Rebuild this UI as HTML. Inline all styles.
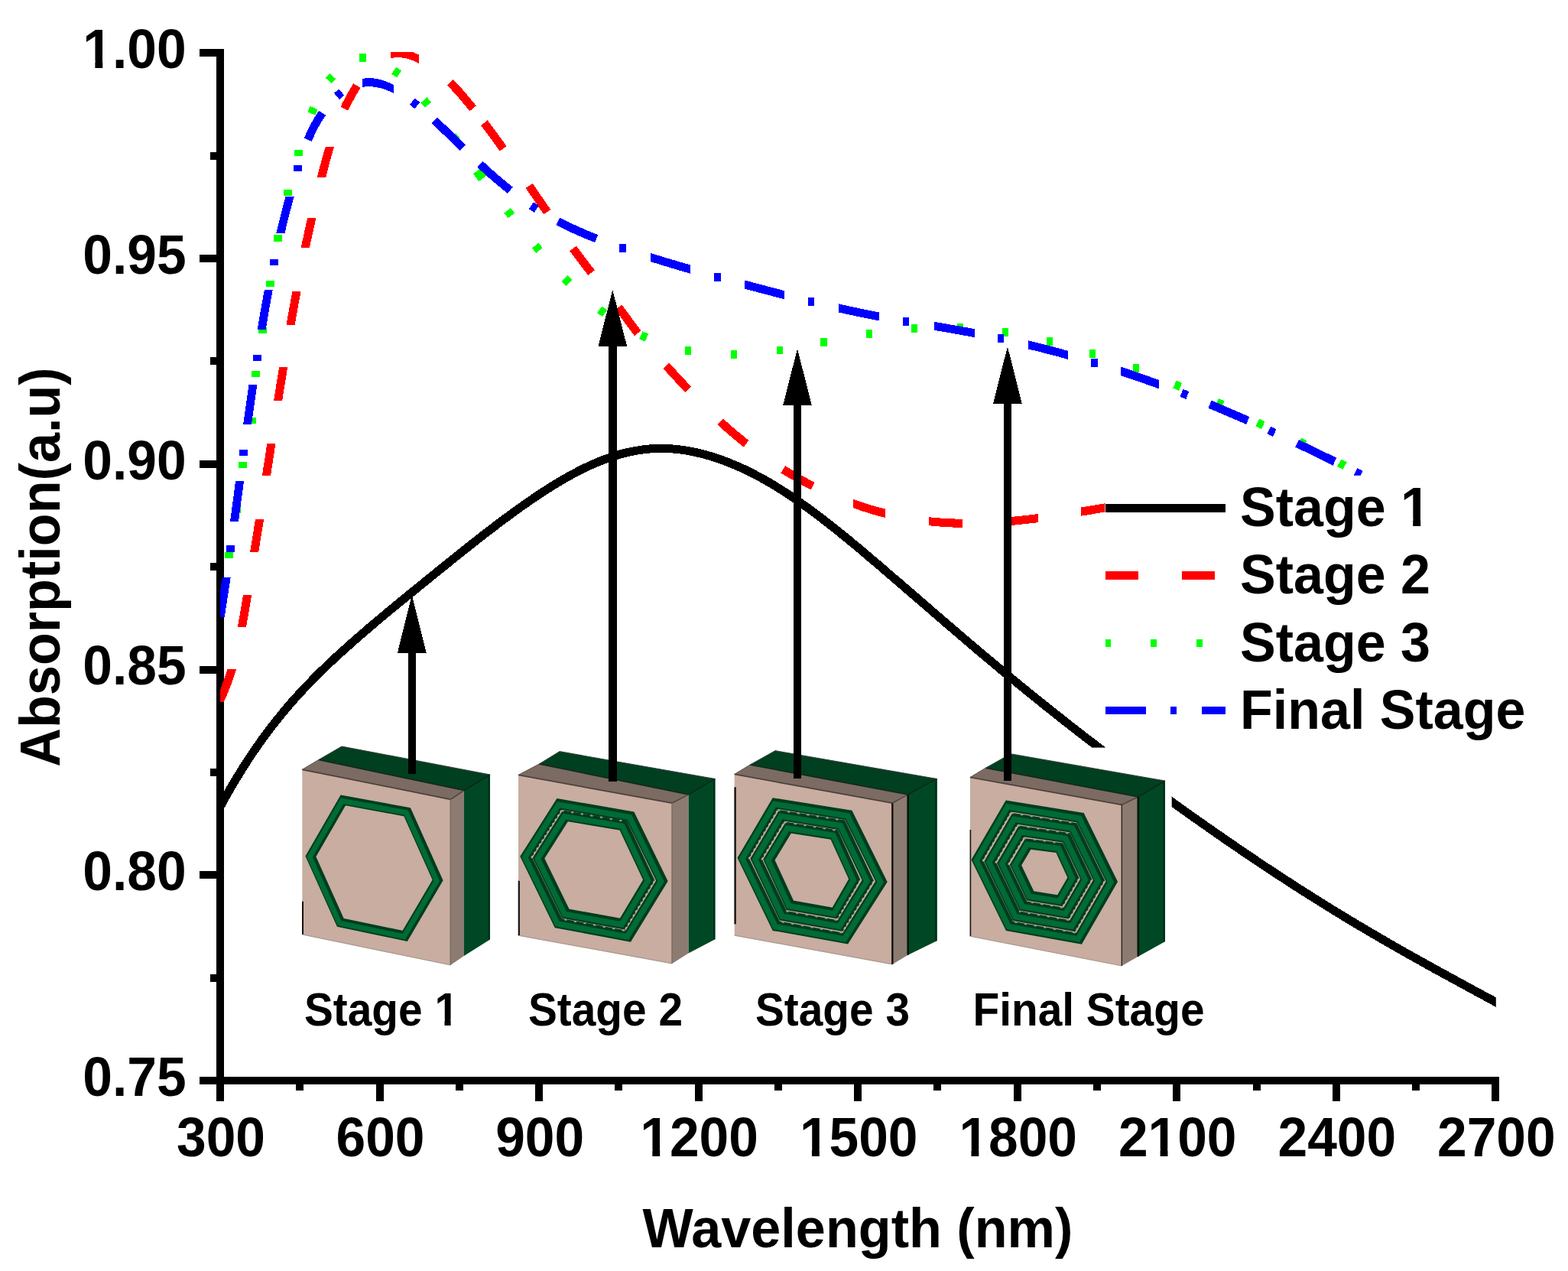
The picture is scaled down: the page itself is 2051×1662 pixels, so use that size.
<!DOCTYPE html>
<html lang="en">
<head>
<meta charset="utf-8">
<title>Absorption vs Wavelength</title>
<style>
html,body{margin:0;padding:0;background:#fff;}
body{width:2051px;height:1662px;overflow:hidden;}
svg{display:block;}
text{font-family:"Liberation Sans", Arial, Helvetica, sans-serif;font-weight:700;}
</style>
</head>
<body>
<svg xmlns="http://www.w3.org/2000/svg" width="2051" height="1662" viewBox="0 0 2051 1662" font-family='"Liberation Sans", Arial, Helvetica, sans-serif' font-weight="bold">
<rect width="2051" height="1662" fill="#fff"/>
<defs>
<clipPath id="plot"><rect x="288" y="68" width="1668.8" height="1345.2"/></clipPath>
</defs>
<g id="axes" fill="#000" shape-rendering="crispEdges">
<rect x="283" y="64.2" width="10" height="1354"/>
<rect x="283" y="1408.2" width="1678.3" height="10"/>
<rect x="261" y="64.2" width="23" height="10"/>
<rect x="275" y="198.6" width="9" height="10"/>
<rect x="261" y="333" width="23" height="10"/>
<rect x="275" y="467.4" width="9" height="10"/>
<rect x="261" y="601.8" width="23" height="10"/>
<rect x="275" y="736.2" width="9" height="10"/>
<rect x="261" y="870.6" width="23" height="10"/>
<rect x="275" y="1005" width="9" height="10"/>
<rect x="261" y="1139.4" width="23" height="10"/>
<rect x="275" y="1273.8" width="9" height="10"/>
<rect x="261" y="1408.2" width="23" height="10"/>
<rect x="283" y="1417.2" width="10" height="23"/>
<rect x="387.3" y="1417.2" width="10" height="9"/>
<rect x="491.5" y="1417.2" width="10" height="23"/>
<rect x="595.8" y="1417.2" width="10" height="9"/>
<rect x="700.1" y="1417.2" width="10" height="23"/>
<rect x="804.3" y="1417.2" width="10" height="9"/>
<rect x="908.6" y="1417.2" width="10" height="23"/>
<rect x="1012.9" y="1417.2" width="10" height="9"/>
<rect x="1117.2" y="1417.2" width="10" height="23"/>
<rect x="1221.4" y="1417.2" width="10" height="9"/>
<rect x="1325.7" y="1417.2" width="10" height="23"/>
<rect x="1430" y="1417.2" width="10" height="9"/>
<rect x="1534.2" y="1417.2" width="10" height="23"/>
<rect x="1638.5" y="1417.2" width="10" height="9"/>
<rect x="1742.8" y="1417.2" width="10" height="23"/>
<rect x="1847" y="1417.2" width="10" height="9"/>
<rect x="1951.3" y="1417.2" width="10" height="23"/>
</g>
<g id="yticks" font-size="69.5" text-anchor="end" fill="#000">
<text transform="translate(243.6 89) scale(1 1.05)">1.00</text><g transform="translate(243.6 89) scale(1 1.05)" fill="#fff"><rect x="-131.65" y="-9.04" width="12.44" height="11.82"/><rect x="-109.34" y="-9.04" width="11.47" height="11.82"/></g>
<text transform="translate(243.6 357.8) scale(1 1.05)">0.95</text>
<text transform="translate(243.6 626.6) scale(1 1.05)">0.90</text>
<text transform="translate(243.6 895.4) scale(1 1.05)">0.85</text>
<text transform="translate(243.6 1164.2) scale(1 1.05)">0.80</text>
<text transform="translate(243.6 1433) scale(1 1.05)">0.75</text>
</g>
<g id="xticks" font-size="69.5" text-anchor="middle" fill="#000">
<text transform="translate(289 1512.3) scale(1 1.05)">300</text>
<text transform="translate(497.5 1512.3) scale(1 1.05)">600</text>
<text transform="translate(706.1 1512.3) scale(1 1.05)">900</text>
<text transform="translate(914.6 1512.3) scale(1 1.05)">1200</text><g transform="translate(914.6 1512.3) scale(1 1.05)" fill="#fff"><rect x="-73.69" y="-9.04" width="12.44" height="11.82"/><rect x="-51.38" y="-9.04" width="11.47" height="11.82"/></g>
<text transform="translate(1123.2 1512.3) scale(1 1.05)">1500</text><g transform="translate(1123.2 1512.3) scale(1 1.05)" fill="#fff"><rect x="-73.69" y="-9.04" width="12.44" height="11.82"/><rect x="-51.38" y="-9.04" width="11.47" height="11.82"/></g>
<text transform="translate(1331.7 1512.3) scale(1 1.05)">1800</text><g transform="translate(1331.7 1512.3) scale(1 1.05)" fill="#fff"><rect x="-73.69" y="-9.04" width="12.44" height="11.82"/><rect x="-51.38" y="-9.04" width="11.47" height="11.82"/></g>
<text transform="translate(1540.2 1512.3) scale(1 1.05)">2100</text><g transform="translate(1540.2 1512.3) scale(1 1.05)" fill="#fff"><rect x="-35.04" y="-9.04" width="12.44" height="11.82"/><rect x="-12.73" y="-9.04" width="11.47" height="11.82"/></g>
<text transform="translate(1748.8 1512.3) scale(1 1.05)">2400</text>
<text transform="translate(1957.3 1512.3) scale(1 1.05)">2700</text>
</g>
<g id="titles" font-size="70.2" text-anchor="middle" fill="#000">
<text transform="translate(1122 1630.8) scale(1 1.035)">Wavelength (nm)</text>
<text transform="translate(78.2 741.5) rotate(-90) scale(1 1.045)">Absorption(a.u)</text>
</g>
<g id="curves" clip-path="url(#plot)" fill="none" stroke-width="10" stroke-linejoin="round" shape-rendering="crispEdges">
<path id="stage1" d="M284 1062.5 L289.6 1052.1 L295.2 1041.9 L300.8 1032 L306.4 1022.5 L312.1 1013.2 L317.7 1004.1 L323.3 995.4 L328.9 986.9 L334.5 978.7 L340.1 970.7 L345.7 962.9 L351.3 955.3 L357 948 L362.6 940.9 L368.2 934 L373.8 927.2 L379.4 920.7 L385 914.3 L390.6 908.1 L396.2 902 L401.9 896.1 L407.5 890.3 L413.1 884.6 L418.7 879 L424.3 873.6 L429.9 868.2 L435.5 862.9 L441.1 857.7 L446.7 852.6 L452.4 847.6 L458 842.5 L463.6 837.6 L469.2 832.7 L474.8 827.8 L480.4 823 L486 818.2 L491.6 813.4 L497.3 808.7 L502.9 804 L508.5 799.3 L514.1 794.7 L519.7 790.1 L525.3 785.5 L530.9 780.9 L536.5 776.3 L542.2 771.8 L547.8 767.2 L553.4 762.7 L559 758.1 L564.6 753.6 L570.2 749 L575.8 744.5 L581.4 740 L587.1 735.4 L592.7 730.9 L598.3 726.4 L603.9 721.9 L609.5 717.5 L615.1 713 L620.7 708.6 L626.3 704.2 L631.9 699.8 L637.6 695.5 L643.2 691.2 L648.8 686.9 L654.4 682.7 L660 678.5 L665.6 674.4 L671.2 670.3 L676.8 666.2 L682.5 662.2 L688.1 658.2 L693.7 654.4 L699.3 650.5 L704.9 646.8 L710.5 643.1 L716.1 639.5 L721.7 635.9 L727.4 632.5 L733 629.1 L738.6 625.8 L744.2 622.7 L749.8 619.6 L755.4 616.7 L761 613.8 L766.6 611.1 L772.2 608.5 L777.9 606 L783.5 603.6 L789.1 601.4 L794.7 599.3 L800.3 597.4 L805.9 595.6 L811.5 593.9 L817.1 592.5 L822.8 591.1 L828.4 590 L834 589 L839.6 588.1 L845.2 587.4 L850.8 586.9 L856.4 586.6 L862 586.4 L867.7 586.4 L873.3 586.6 L878.9 586.9 L884.5 587.4 L890.1 588 L895.7 588.8 L901.3 589.7 L906.9 590.8 L912.5 592.1 L918.2 593.4 L923.8 594.9 L929.4 596.6 L935 598.3 L940.6 600.2 L946.2 602.2 L951.8 604.3 L957.4 606.6 L963.1 609 L968.7 611.4 L974.3 614 L979.9 616.7 L985.5 619.6 L991.1 622.5 L996.7 625.5 L1002.3 628.7 L1008 631.9 L1013.6 635.3 L1019.2 638.8 L1024.8 642.3 L1030.4 646 L1036 649.7 L1041.6 653.6 L1047.2 657.5 L1052.8 661.5 L1058.5 665.5 L1064.1 669.7 L1069.7 673.9 L1075.3 678.2 L1080.9 682.5 L1086.5 686.9 L1092.1 691.3 L1097.7 695.8 L1103.4 700.4 L1109 704.9 L1114.6 709.6 L1120.2 714.2 L1125.8 718.9 L1131.4 723.6 L1137 728.4 L1142.6 733.2 L1148.3 737.9 L1153.9 742.7 L1159.5 747.6 L1165.1 752.4 L1170.7 757.2 L1176.3 762 L1181.9 766.9 L1187.5 771.7 L1193.2 776.6 L1198.8 781.4 L1204.4 786.3 L1210 791.1 L1215.6 795.9 L1221.2 800.8 L1226.8 805.6 L1232.4 810.4 L1238 815.3 L1243.7 820.1 L1249.3 824.9 L1254.9 829.7 L1260.5 834.5 L1266.1 839.3 L1271.7 844.1 L1277.3 848.8 L1282.9 853.6 L1288.6 858.3 L1294.2 863 L1299.8 867.7 L1305.4 872.4 L1311 877.1 L1316.6 881.7 L1322.2 886.3 L1327.8 890.9 L1333.5 895.5 L1339.1 900.1 L1344.7 904.7 L1350.3 909.2 L1355.9 913.7 L1361.5 918.3 L1367.1 922.8 L1372.7 927.2 L1378.3 931.7 L1384 936.1 L1389.6 940.6 L1395.2 945 L1400.8 949.4 L1406.4 953.8 L1412 958.1 L1417.6 962.5 L1423.2 966.8 L1428.9 971.1 L1434.5 975.4 L1440.1 979.7 L1445.7 984 L1451.3 988.3 L1456.9 992.5 L1462.5 996.7 L1468.1 1000.9 L1473.8 1005.1 L1479.4 1009.3 L1485 1013.5 L1490.6 1017.7 L1496.2 1021.8 L1501.8 1025.9 L1507.4 1030 L1513 1034.1 L1518.6 1038.2 L1524.3 1042.3 L1529.9 1046.3 L1535.5 1050.4 L1541.1 1054.4 L1546.7 1058.4 L1552.3 1062.4 L1557.9 1066.4 L1563.5 1070.4 L1569.2 1074.3 L1574.8 1078.3 L1580.4 1082.2 L1586 1086.1 L1591.6 1090 L1597.2 1093.9 L1602.8 1097.8 L1608.4 1101.7 L1614.1 1105.5 L1619.7 1109.3 L1625.3 1113.2 L1630.9 1116.9 L1636.5 1120.7 L1642.1 1124.5 L1647.7 1128.3 L1653.3 1132 L1658.9 1135.7 L1664.6 1139.4 L1670.2 1143.1 L1675.8 1146.8 L1681.4 1150.4 L1687 1154.1 L1692.6 1157.7 L1698.2 1161.3 L1703.8 1164.9 L1709.5 1168.4 L1715.1 1172 L1720.7 1175.5 L1726.3 1179 L1731.9 1182.5 L1737.5 1186 L1743.1 1189.5 L1748.7 1192.9 L1754.4 1196.4 L1760 1199.8 L1765.6 1203.2 L1771.2 1206.5 L1776.8 1209.9 L1782.4 1213.2 L1788 1216.5 L1793.6 1219.8 L1799.3 1223.1 L1804.9 1226.4 L1810.5 1229.6 L1816.1 1232.9 L1821.7 1236.1 L1827.3 1239.3 L1832.9 1242.5 L1838.5 1245.7 L1844.1 1248.8 L1849.8 1252 L1855.4 1255.1 L1861 1258.2 L1866.6 1261.4 L1872.2 1264.5 L1877.8 1267.6 L1883.4 1270.7 L1889 1273.7 L1894.7 1276.8 L1900.3 1279.9 L1905.9 1283 L1911.5 1286 L1917.1 1289.1 L1922.7 1292.1 L1928.3 1295.2 L1933.9 1298.2 L1939.6 1301.2 L1945.2 1304.3 L1950.8 1307.3 L1956.4 1310.4 L1962 1313.4" stroke="#000" stroke-width="11"/>
<g id="stage3">
<rect x="294.3" y="721.6" width="10.8" height="8.3" fill="#00ff00"/>
<rect x="304.2" y="662.6" width="10.8" height="8.3" fill="#00ff00"/>
<rect x="312.1" y="603.6" width="10.8" height="8.3" fill="#00ff00"/>
<rect x="323.8" y="545.6" width="10.8" height="8.3" fill="#00ff00"/>
<rect x="329.4" y="485.1" width="10.8" height="8.3" fill="#00ff00"/>
<rect x="337.8" y="427.6" width="10.8" height="8.3" fill="#00ff00"/>
<rect x="348" y="366.7" width="10.8" height="8.3" fill="#00ff00"/>
<rect x="358.3" y="307.4" width="10.8" height="8.3" fill="#00ff00"/>
<rect x="371" y="248" width="10.8" height="8.3" fill="#00ff00"/>
<rect x="385" y="195.8" width="10.8" height="8.3" fill="#00ff00"/>
<path d="M407.4 148.5 L410.6 140.9" stroke="#00ff00" stroke-width="10.8" fill="none"/>
<path d="M429.6 105.4 L435.2 99.4" stroke="#00ff00" stroke-width="10.8" fill="none"/>
<rect x="470.2" y="70.1" width="8.3" height="10.8" fill="#00ff00"/>
<path d="M515.2 92.2 L522 97" stroke="#00ff00" stroke-width="10.8" fill="none"/>
<path d="M554.5 130.9 L559.9 137.1" stroke="#00ff00" stroke-width="10.8" fill="none"/>
<path d="M592.3 177.6 L597.3 184.2" stroke="#00ff00" stroke-width="10.8" fill="none"/>
<path d="M623.9 223.6 L631.3 233.6" stroke="#00ff00" stroke-width="12.3" fill="none"/>
<path d="M663.7 275.2 L668.9 281.8" stroke="#00ff00" stroke-width="10.8" fill="none"/>
<path d="M700.1 321.1 L705.5 327.5" stroke="#00ff00" stroke-width="10.8" fill="none"/>
<path d="M738.4 364 L744.4 369.8" stroke="#00ff00" stroke-width="10.8" fill="none"/>
<path d="M784.2 404.9 L791 409.7" stroke="#00ff00" stroke-width="10.8" fill="none"/>
<path d="M838.4 438.2 L846 441.6" stroke="#00ff00" stroke-width="10.8" fill="none"/>
<rect x="895.9" y="453.2" width="8.3" height="10.8" fill="#00ff00"/>
<rect x="955.6" y="457.9" width="8.3" height="10.8" fill="#00ff00"/>
<rect x="1015.8" y="452.6" width="8.3" height="10.8" fill="#00ff00"/>
<rect x="1073.4" y="441.8" width="8.3" height="10.8" fill="#00ff00"/>
<rect x="1132.8" y="431.1" width="8.3" height="10.8" fill="#00ff00"/>
<rect x="1191.8" y="423.9" width="8.3" height="10.8" fill="#00ff00"/>
<rect x="1251.9" y="422.6" width="8.3" height="10.8" fill="#00ff00"/>
<rect x="1310.8" y="429.2" width="8.3" height="10.8" fill="#00ff00"/>
<rect x="1368.8" y="440.9" width="8.3" height="10.8" fill="#00ff00"/>
<rect x="1424.6" y="457.1" width="8.3" height="10.8" fill="#00ff00"/>
<rect x="1481.8" y="476" width="8.3" height="10.8" fill="#00ff00"/>
<path d="M1536.5 502.6 L1544.1 505.8" stroke="#00ff00" stroke-width="10.8" fill="none"/>
<path d="M1591.7 525.9 L1599.3 529.3" stroke="#00ff00" stroke-width="10.8" fill="none"/>
<path d="M1644.9 552.4 L1652.3 556" stroke="#00ff00" stroke-width="10.8" fill="none"/>
<path d="M1699.8 577.4 L1707.2 581" stroke="#00ff00" stroke-width="10.8" fill="none"/>
<path d="M1751.7 605.2 L1759.1 609.2" stroke="#00ff00" stroke-width="10.8" fill="none"/>
</g>
<g id="stage2">
<polygon points="281.2,917.6 283.9,911.6 286.4,905.7 288.9,899.7 291.1,893.6 293.3,887.5 295.4,881.3 297.3,875.1 309.1,875.1 307.1,881.3 305.1,887.5 302.9,893.6 300.6,899.7 298.2,905.7 295.7,911.6 293,917.6" fill="#ff0000"/>
<polygon points="310.7,820.4 311.8,814.3 312.9,808.2 314,802.1 315,796 316.1,789.9 317.1,783.8 318.1,777.7 329.2,777.7 328.2,783.8 327.2,789.9 326.2,796 325.2,802.1 324.1,808.2 323,814.3 321.9,820.4" fill="#ff0000"/>
<polygon points="327.1,721.9 328.1,715.7 329.1,709.5 330.1,703.3 331.1,697.1 332.1,690.9 333,684.7 334,678.5 345.2,678.5 344.2,684.7 343.2,690.9 342.2,697.1 341.2,703.3 340.2,709.5 339.2,715.7 338.3,721.9" fill="#ff0000"/>
<polygon points="342.9,622 343.8,616 344.7,610 345.6,604 346.6,598 347.5,592 348.4,586 349.3,580 360.5,580 359.5,586 358.6,592 357.7,598 356.8,604 355.8,610 354.9,616 354,622" fill="#ff0000"/>
<polygon points="358.1,523.6 359.1,517.4 360.1,511.2 361.1,505 362.1,498.8 363.1,492.7 364.1,486.5 365.1,480.3 376.2,480.3 375.2,486.5 374.2,492.7 373.2,498.8 372.2,505 371.2,511.2 370.2,517.4 369.3,523.6" fill="#ff0000"/>
<polygon points="374.4,425.3 375.5,419 376.6,412.7 377.7,406.5 378.9,400.2 380,393.9 381.2,387.6 382.4,381.3 393.5,381.3 392.4,387.6 391.2,393.9 390,400.2 388.9,406.5 387.8,412.7 386.7,419 385.5,425.3" fill="#ff0000"/>
<polygon points="393.6,324.4 395,317.8 396.4,311.2 397.8,304.6 399.3,298 400.7,291.4 402.2,284.8 413.4,284.8 412,291.4 410.5,298 409.1,304.6 407.6,311.2 406.2,317.8 404.9,324.4" fill="#ff0000"/>
<polygon points="414.7,232.2 416.4,225.5 418.1,218.8 419.9,212.2 421.7,205.5 423.6,198.9 425.6,192.3 437,192.3 435,198.9 433.1,205.5 431.3,212.2 429.5,218.8 427.8,225.5 426.1,232.2" fill="#ff0000"/>
<path d="M450.4 142.1 L453.4 136 L456.6 129.9 L459.9 123.8 L463.3 117.9 L466.9 112.1" stroke="#ff0000" stroke-width="11" fill="none"/>
<polygon points="511,65 517.4,63.9 523.9,63.9 530.3,64.9 536.5,66.7 542.6,69.1 548.4,71.9 548.4,83.1 542.6,80.2 536.5,77.9 530.3,76.1 523.9,75.1 517.4,75.1 511,76.2" fill="#ff0000"/>
<path d="M588.9 107.9 L593.4 112.5 L597.8 117.2 L602.1 122 L606.3 126.9 L610.4 131.8 L614.5 136.8 L618.6 141.8" stroke="#ff0000" stroke-width="11" fill="none"/>
<path d="M633.3 160.7 L637.5 166.2 L641.7 171.8 L645.9 177.4 L650 183.1 L654.1 188.7 L658.2 194.4" stroke="#ff0000" stroke-width="11" fill="none"/>
<path d="M692.1 242.9 L696.1 248.6 L700 254.3 L703.9 260 L707.9 265.8 L711.8 271.5 L715.8 277.2" stroke="#ff0000" stroke-width="11" fill="none"/>
<path d="M749.6 324.8 L753.5 330.2 L757.4 335.5 L761.4 340.8 L765.4 346.1 L769.5 351.3 L773.6 356.6" stroke="#ff0000" stroke-width="11" fill="none"/>
<path d="M809 401.7 L812.6 406.5 L816.2 411.4 L819.8 416.3 L823.3 421.2 L826.9 426.1 L830.5 430.9 L834.2 435.7" stroke="#ff0000" stroke-width="11" fill="none"/>
<path d="M871.4 478.2 L875.5 482.7 L879.6 487.2 L883.7 491.7 L887.8 496.1 L892 500.6 L896.1 505 L900.3 509.5" stroke="#ff0000" stroke-width="11" fill="none"/>
<path d="M942.1 551.3 L946.8 555.6 L951.6 559.9 L956.4 564 L961.3 568.2 L966.2 572.2 L971.1 576.3 L976.1 580.2" stroke="#ff0000" stroke-width="11" fill="none"/>
<path d="M1024.3 613.8 L1029.8 617.2 L1035.3 620.4 L1040.8 623.6 L1046.4 626.7 L1052 629.8 L1057.6 632.8 L1063.3 635.7" stroke="#ff0000" stroke-width="11" fill="none"/>
<polygon points="1115.7,652.6 1121.7,654.7 1127.7,656.8 1133.8,658.7 1139.8,660.6 1145.9,662.4 1152.1,664 1158.2,665.7 1158.2,677.2 1152.1,675.6 1145.9,673.9 1139.8,672.1 1133.8,670.2 1127.7,668.3 1121.7,666.2 1115.7,664.1" fill="#ff0000"/>
<polygon points="1214.8,676.2 1221.1,676.8 1227.3,677.3 1233.6,677.8 1239.8,678.2 1246.1,678.4 1252.3,678.6 1258.6,678.7 1258.6,689.8 1252.3,689.6 1246.1,689.5 1239.8,689.2 1233.6,688.8 1227.3,688.4 1221.1,687.8 1214.8,687.2" fill="#ff0000"/>
<polygon points="1314,676.7 1320.3,676.1 1326.6,675.6 1332.9,674.9 1339.2,674.3 1345.5,673.6 1351.7,672.8 1358,672 1358,683.1 1351.7,683.9 1345.5,684.6 1339.2,685.3 1332.9,686 1326.6,686.6 1320.3,687.2 1314,687.7" fill="#ff0000"/>
<polygon points="1413.9,663.6 1419.9,662.6 1425.9,661.6 1431.8,660.6 1437.8,659.6 1443.8,658.6 1449.7,657.6 1449.7,668.7 1443.8,669.7 1437.8,670.7 1431.8,671.8 1425.9,672.8 1419.9,673.8 1413.9,674.7" fill="#ff0000"/>
</g>
<g id="stage4">
<polygon points="282.7,807 283.8,800.5 284.8,794 285.8,787.5 286.8,781 287.8,774.5 288.8,768 289.7,761.5 290.7,755 301.6,755 300.7,761.5 299.7,768 298.7,774.5 297.7,781 296.7,787.5 295.7,794 294.7,800.5 293.7,807" fill="#0000ff"/>
<rect x="296.2" y="713.3" width="10.8" height="8.3" fill="#0000ff"/>
<polygon points="301,682 301.9,675.4 302.8,668.7 303.7,662.1 304.6,655.5 305.5,648.9 306.4,642.3 307.2,635.7 308.1,629.1 319,629.1 318.1,635.7 317.3,642.3 316.4,648.9 315.5,655.5 314.6,662.1 313.7,668.7 312.8,675.4 311.9,682" fill="#0000ff"/>
<rect x="313.1" y="588" width="10.8" height="8.3" fill="#0000ff"/>
<polygon points="318.1,555.2 319,548.7 319.9,542.2 320.8,535.7 321.7,529.2 322.7,522.7 323.6,516.2 324.5,509.6 325.5,503.1 336.4,503.1 335.4,509.6 334.5,516.2 333.6,522.7 332.6,529.2 331.7,535.7 330.8,542.2 329.9,548.7 329,555.2" fill="#0000ff"/>
<rect x="330.8" y="463.6" width="10.8" height="8.3" fill="#0000ff"/>
<polygon points="336.6,431 337.7,424.5 338.8,418 339.9,411.6 341.1,405.1 342.2,398.6 343.4,392.2 344.6,385.7 345.8,379.2 356.7,379.2 355.5,385.7 354.3,392.2 353.2,398.6 352,405.1 350.9,411.6 349.8,418 348.7,424.5 347.6,431" fill="#0000ff"/>
<rect x="353.1" y="338.6" width="10.8" height="8.3" fill="#0000ff"/>
<polygon points="361.3,305 362.8,299 364.2,292.9 365.7,286.9 367.2,280.9 368.8,274.9 370.3,268.9 371.9,262.9 373.6,256.9 384.7,256.9 383.1,262.9 381.5,268.9 379.9,274.9 378.4,280.9 376.9,286.9 375.4,292.9 373.9,299 372.5,305" fill="#0000ff"/>
<rect x="384.3" y="216.1" width="10.8" height="8.3" fill="#0000ff"/>
<path d="M402.8 182.9 L405.4 176.8 L408.2 170.8 L411.2 164.8 L414.5 159 L417.9 153.3 L421.6 147.8" stroke="#0000ff" stroke-width="10.8" fill="none"/>
<path d="M440.4 125.9 L446.8 120.6" stroke="#0000ff" stroke-width="10.8" fill="none"/>
<polygon points="473.5,102.9 479.6,102.2 485.8,102.2 492,102.9 498,104.3 503.9,106.1 509.6,108.4 515.2,111.1 515.2,122.1 509.6,119.4 503.9,117.1 498,115.3 492,114 485.8,113.2 479.6,113.2 473.5,113.9" fill="#0000ff"/>
<path d="M539.3 132.7 L545.8 137.9" stroke="#0000ff" stroke-width="10.8" fill="none"/>
<path d="M568.3 157.5 L573 161.9 L577.6 166.3 L582.3 170.7 L586.9 175.2 L591.5 179.7 L596.1 184.2 L600.6 188.6 L605.2 193.1" stroke="#0000ff" stroke-width="10.8" fill="none"/>
<path d="M628 214.8 L632.7 219.2 L637.6 223.6 L642.4 227.9 L647.3 232.2 L652.3 236.4 L657.3 240.6 L662.3 244.8 L667.4 248.8" stroke="#0000ff" stroke-width="10.8" fill="none"/>
<path d="M694.8 268.8 L701.8 273.3" stroke="#0000ff" stroke-width="10.8" fill="none"/>
<path d="M729.7 289.3 L735.2 292.1 L740.7 294.9 L746.3 297.5 L751.8 300.1 L757.5 302.6 L763.1 305.1 L768.8 307.5 L774.5 309.8 L780.2 312.1" stroke="#0000ff" stroke-width="10.8" fill="none"/>
<rect x="810.4" y="319.2" width="8.3" height="10.8" fill="#0000ff"/>
<polygon points="850.8,330.8 856.5,332.6 862.2,334.4 868,336.1 873.7,337.9 879.5,339.6 885.3,341.3 891,343 896.8,344.7 902.6,346.4 902.6,357.7 896.8,356 891,354.3 885.3,352.6 879.5,350.9 873.7,349.1 868,347.4 862.2,345.6 856.5,343.9 850.8,342.1" fill="#0000ff"/>
<rect x="934.2" y="356.8" width="8.3" height="10.8" fill="#0000ff"/>
<polygon points="973.5,366.3 979.3,367.8 985.1,369.4 990.9,371 996.7,372.5 1002.5,374 1008.3,375.6 1014.1,377.1 1019.9,378.6 1025.7,380.1 1025.7,391.3 1019.9,389.8 1014.1,388.3 1008.3,386.7 1002.5,385.2 996.7,383.7 990.9,382.1 985.1,380.6 979.3,379 973.5,377.4" fill="#0000ff"/>
<rect x="1057" y="389.2" width="8.3" height="10.8" fill="#0000ff"/>
<polygon points="1096.7,397.3 1102.6,398.7 1108.5,399.9 1114.3,401.2 1120.2,402.4 1126.1,403.7 1132,404.9 1137.9,406 1143.8,407.2 1149.7,408.3 1149.7,419.4 1143.8,418.2 1137.9,417.1 1132,415.9 1126.1,414.7 1120.2,413.5 1114.3,412.2 1108.5,411 1102.6,409.7 1096.7,408.4" fill="#0000ff"/>
<rect x="1180.7" y="414.8" width="8.3" height="10.8" fill="#0000ff"/>
<polygon points="1221.7,420.8 1227.6,421.8 1233.5,422.8 1239.4,423.8 1245.4,424.9 1251.3,425.9 1257.2,427 1263.1,428 1269,429.1 1274.9,430.2 1274.9,441.2 1269,440.1 1263.1,439 1257.2,437.9 1251.3,436.9 1245.4,435.8 1239.4,434.8 1233.5,433.8 1227.6,432.8 1221.7,431.8" fill="#0000ff"/>
<rect x="1305.1" y="437.3" width="8.3" height="10.8" fill="#0000ff"/>
<polygon points="1344.9,445.2 1350.7,446.6 1356.5,448.1 1362.3,449.5 1368.2,451 1374,452.5 1379.8,454.1 1385.6,455.6 1391.4,457.2 1397.1,458.8 1397.1,470 1391.4,468.4 1385.6,466.8 1379.8,465.2 1374,463.7 1368.2,462.2 1362.3,460.7 1356.5,459.2 1350.7,457.8 1344.9,456.4" fill="#0000ff"/>
<rect x="1427.3" y="469" width="8.3" height="10.8" fill="#0000ff"/>
<polygon points="1466.3,479.7 1472.5,481.8 1478.7,483.9 1485,486 1491.2,488.2 1497.4,490.3 1503.6,492.5 1509.8,494.8 1515.9,497 1515.9,508.4 1509.8,506.2 1503.6,504 1497.4,501.8 1491.2,499.6 1485,497.5 1478.7,495.3 1472.5,493.2 1466.3,491.2" fill="#0000ff"/>
<path d="M1545.5 513.9 L1553.3 516.9" stroke="#0000ff" stroke-width="10.8" fill="none"/>
<path d="M1582.6 528.7 L1588.1 531 L1593.7 533.4 L1599.2 535.7 L1604.7 538.1 L1610.2 540.4 L1615.8 542.8 L1621.3 545.2 L1626.8 547.6 L1632.2 550.1" stroke="#0000ff" stroke-width="10.8" fill="none"/>
<path d="M1659.7 562.5 L1667.3 566" stroke="#0000ff" stroke-width="10.8" fill="none"/>
<path d="M1696.6 579.8 L1702.1 582.4 L1707.6 585 L1713.1 587.7 L1718.5 590.3 L1724 593 L1729.5 595.6 L1735 598.3 L1740.4 601 L1745.9 603.7" stroke="#0000ff" stroke-width="10.8" fill="none"/>
<path d="M1772.9 617.1 L1780.3 620.8" stroke="#0000ff" stroke-width="10.8" fill="none"/>
</g>
</g>
<g id="insets" fill="none">
<g id="b1">
<rect x="388" y="970" width="260" height="300" fill="#fff"/>
<polygon points="395.3,1006.3 416.7,993.6 606.9,1033.6 589.3,1045.3" fill="#7b6b62"/>
<polygon points="416.7,993.6 447,976 641,1013.1 606.9,1033.6" fill="#003f20"/>
<polygon points="589.3,1045.3 606.9,1033.6 606.9,1250 589.3,1262" fill="#8c7b71"/>
<polygon points="606.9,1033.6 641,1013.1 641,1228.6 606.9,1250" fill="#004825"/>
<polygon points="395.3,1006.3 589.3,1045.3 589.3,1262 395.3,1221.8" fill="#c8ada0"/>
<path d="M395.3 1006.3L589.3 1045.3" stroke="#4b413b" stroke-width="1.7"/>
<path d="M416.7 993.6L606.9 1033.6" stroke="#17251c" stroke-width="1.5"/>
<path d="M447 976L641 1013.1" stroke="#33423a" stroke-width="1.2"/>
<path d="M416.7 993.6L447 976" stroke="#33423a" stroke-width="1.0"/>
<path d="M395.3 1006.3L416.7 993.6" stroke="#5c514b" stroke-width="1.0"/>
<path d="M395.3 1221.8L589.3 1262" stroke="#a8978d" stroke-width="1.2"/>
<path d="M589.3 1045.3L606.9 1033.6" stroke="#4b413b" stroke-width="1.4"/>
<path d="M606.9 1033.6L641 1013.1" stroke="#0d2014" stroke-width="1.4"/>
<path d="M396 1178.7L396 1221.8" stroke="#15120f" stroke-width="2.0"/>
<path d="M589.3 1045.3L589.3 1262" stroke="#7d6d64" stroke-width="1.6"/>
<path d="M639.8 1013.1L639.8 1228.6" stroke="#002f17" stroke-width="2.4"/>
<polygon points="406.4,1119.8 448.8,1046.5 532.6,1061.8 572.6,1150.9 529.7,1223.9 445.3,1206.3" fill="none" stroke="#003c1f" stroke-width="12.4" stroke-linejoin="miter" stroke-miterlimit="6"/>
<polygon points="405.1,1120.6 447.5,1047.3 531.3,1062.6 571.3,1151.7 528.4,1224.7 444,1207.1" fill="none" stroke="#006b35" stroke-width="6.8" stroke-linejoin="miter" stroke-miterlimit="6"/>
</g>
<g id="b2">
<rect x="670" y="975" width="272" height="295" fill="#fff"/>
<polygon points="678,1013.4 705.2,999.1 900.6,1039 879.1,1050.2" fill="#7b6b62"/>
<polygon points="705.2,999.1 731.8,982.7 935.4,1018.5 900.6,1039" fill="#003f20"/>
<polygon points="879.1,1050.2 900.6,1039 900.6,1246.6 879.1,1259.9" fill="#8c7b71"/>
<polygon points="900.6,1039 935.4,1018.5 935.4,1228.2 900.6,1246.6" fill="#004825"/>
<polygon points="678,1013.4 879.1,1050.2 879.1,1259.9 678,1223.1" fill="#c8ada0"/>
<path d="M678 1013.4L879.1 1050.2" stroke="#4b413b" stroke-width="1.7"/>
<path d="M705.2 999.1L900.6 1039" stroke="#17251c" stroke-width="1.5"/>
<path d="M731.8 982.7L935.4 1018.5" stroke="#33423a" stroke-width="1.2"/>
<path d="M705.2 999.1L731.8 982.7" stroke="#33423a" stroke-width="1.0"/>
<path d="M678 1013.4L705.2 999.1" stroke="#5c514b" stroke-width="1.0"/>
<path d="M678 1223.1L879.1 1259.9" stroke="#a8978d" stroke-width="1.2"/>
<path d="M879.1 1050.2L900.6 1039" stroke="#4b413b" stroke-width="1.4"/>
<path d="M900.6 1039L935.4 1018.5" stroke="#0d2014" stroke-width="1.4"/>
<path d="M678.8 1151.8L678.8 1223.1" stroke="#15120f" stroke-width="2.2"/>
<path d="M879.1 1050.2L879.1 1259.9" stroke="#7d6d64" stroke-width="1.6"/>
<path d="M934.2 1018.5L934.2 1228.2" stroke="#002f17" stroke-width="2.4"/>
<polygon points="688,1120.3 731.8,1051.5 824.8,1067.7 865.9,1151.9 821.6,1224.2 730.4,1207.1" fill="none" stroke="#003c1f" stroke-width="13.6" stroke-linejoin="miter" stroke-miterlimit="6"/>
<polygon points="704.5,1122.1 739.5,1066.9 815.3,1079.5 848.8,1150.8 814.4,1208.3 739.9,1194.7" fill="none" stroke="#003c1f" stroke-width="13.6" stroke-linejoin="miter" stroke-miterlimit="6"/>
<path d="M695.1 1121.9 L734.5 1059.9" stroke="#bfa99d" stroke-width="2.2" stroke-dasharray="3.2 3.2"/>
<path d="M856.2 1152 L816.9 1216.9" stroke="#bfa99d" stroke-width="2.2" stroke-dasharray="3.2 3.2"/>
<path d="M734.5 1059.9 L818.9 1074.3" stroke="#a99689" stroke-width="2" stroke-dasharray="3.2 9.6"/>
<path d="M816.9 1216.9 L734.1 1201.6" stroke="#a99689" stroke-width="2" stroke-dasharray="3.2 9.6"/>
<polygon points="686.7,1121.1 730.6,1052.3 823.5,1068.5 864.6,1152.7 820.3,1225 729.1,1207.9" fill="none" stroke="#006b35" stroke-width="7.4" stroke-linejoin="miter" stroke-miterlimit="6"/>
<polygon points="703.3,1122.9 738.2,1067.7 814,1080.3 847.5,1151.6 813.2,1209 738.6,1195.5" fill="none" stroke="#006b35" stroke-width="7.4" stroke-linejoin="miter" stroke-miterlimit="6"/>
</g>
<g id="b3">
<rect x="952" y="975" width="280" height="295" fill="#fff"/>
<polygon points="960.7,1012.4 981.1,1000.1 1187.7,1039 1167.3,1050.2" fill="#7b6b62"/>
<polygon points="981.1,1000.1 1013.9,981.7 1225.6,1018.5 1187.7,1039" fill="#003f20"/>
<polygon points="1167.3,1050.2 1187.7,1039 1187.7,1248.7 1167.3,1260.9" fill="#8c7b71"/>
<polygon points="1187.7,1039 1225.6,1018.5 1225.6,1230.2 1187.7,1248.7" fill="#004825"/>
<polygon points="960.7,1012.4 1167.3,1050.2 1167.3,1260.9 960.7,1223.1" fill="#c8ada0"/>
<path d="M960.7 1012.4L1167.3 1050.2" stroke="#4b413b" stroke-width="1.7"/>
<path d="M981.1 1000.1L1187.7 1039" stroke="#17251c" stroke-width="1.5"/>
<path d="M1013.9 981.7L1225.6 1018.5" stroke="#33423a" stroke-width="1.2"/>
<path d="M981.1 1000.1L1013.9 981.7" stroke="#33423a" stroke-width="1.0"/>
<path d="M960.7 1012.4L981.1 1000.1" stroke="#5c514b" stroke-width="1.0"/>
<path d="M960.7 1223.1L1167.3 1260.9" stroke="#a8978d" stroke-width="1.2"/>
<path d="M1167.3 1050.2L1187.7 1039" stroke="#4b413b" stroke-width="1.4"/>
<path d="M1187.7 1039L1225.6 1018.5" stroke="#0d2014" stroke-width="1.4"/>
<path d="M961.6 1029.3L961.6 1208.4" stroke="#15120f" stroke-width="2.4"/>
<path d="M1167.3 1050.2L1167.3 1260.9" stroke="#15120f" stroke-width="2.4"/>
<path d="M1187.7 1039L1187.7 1248.7" stroke="#00150a" stroke-width="2.6"/>
<path d="M1224.4 1018.5L1224.4 1230.2" stroke="#002f17" stroke-width="2.4"/>
<polygon points="972.2,1122.1 1014.2,1050.7 1109.9,1066 1152.9,1152.8 1105.8,1227.1 1015.3,1210.8" fill="none" stroke="#003c1f" stroke-width="13.6" stroke-linejoin="miter" stroke-miterlimit="6"/>
<polygon points="989.1,1123.2 1022.8,1066.4 1100.6,1078.7 1135.3,1151.3 1099.1,1210.6 1024.4,1197.3" fill="none" stroke="#003c1f" stroke-width="13.6" stroke-linejoin="miter" stroke-miterlimit="6"/>
<polygon points="1005.9,1124.3 1031.4,1082.2 1091.2,1091.5 1117.7,1149.8 1092.3,1194.1 1033.4,1183.8" fill="none" stroke="#003c1f" stroke-width="13.6" stroke-linejoin="miter" stroke-miterlimit="6"/>
<path d="M979.5 1123.3 L1017.4 1059.2" stroke="#bfa99d" stroke-width="2.2" stroke-dasharray="3.2 3.2"/>
<path d="M1143 1152.7 L1101.3 1219.6" stroke="#bfa99d" stroke-width="2.2" stroke-dasharray="3.2 3.2"/>
<path d="M1017.4 1059.2 L1104.1 1073" stroke="#a99689" stroke-width="2" stroke-dasharray="3.2 9.6"/>
<path d="M1101.3 1219.6 L1018.7 1204.8" stroke="#a99689" stroke-width="2" stroke-dasharray="3.2 9.6"/>
<path d="M996.4 1124.4 L1026 1075" stroke="#bfa99d" stroke-width="2.2" stroke-dasharray="3.2 3.2"/>
<path d="M1125.4 1151.2 L1094.6 1203.1" stroke="#bfa99d" stroke-width="2.2" stroke-dasharray="3.2 3.2"/>
<path d="M1026 1075 L1094.8 1085.8" stroke="#a99689" stroke-width="2" stroke-dasharray="3.2 9.6"/>
<path d="M1094.6 1203.1 L1027.8 1191.3" stroke="#a99689" stroke-width="2" stroke-dasharray="3.2 9.6"/>
<polygon points="970.9,1122.8 1012.9,1051.5 1108.7,1066.8 1151.7,1153.6 1104.5,1227.9 1014.1,1211.6" fill="none" stroke="#006b35" stroke-width="7.4" stroke-linejoin="miter" stroke-miterlimit="6"/>
<polygon points="987.8,1124 1021.5,1067.2 1099.3,1079.5 1134,1152.1 1097.8,1211.4 1023.1,1198.1" fill="none" stroke="#006b35" stroke-width="7.4" stroke-linejoin="miter" stroke-miterlimit="6"/>
<polygon points="1004.6,1125.1 1030.1,1083 1089.9,1092.3 1116.4,1150.6 1091,1194.9 1032.1,1184.6" fill="none" stroke="#006b35" stroke-width="7.4" stroke-linejoin="miter" stroke-miterlimit="6"/>
</g>
<g id="b4">
<rect x="1260" y="977.6" width="272.7" height="294.4" fill="#fff"/>
<polygon points="1268.9,1016.5 1289.3,1004.2 1488.8,1042 1467.3,1052.3" fill="#7b6b62"/>
<polygon points="1289.3,1004.2 1322,985.8 1523.9,1021.2 1488.8,1042" fill="#003f20"/>
<polygon points="1467.3,1052.3 1488.8,1042 1488.8,1250.7 1467.3,1263" fill="#8c7b71"/>
<polygon points="1488.8,1042 1523.9,1021.2 1523.9,1231.3 1488.8,1250.7" fill="#004825"/>
<polygon points="1268.9,1016.5 1467.3,1052.3 1467.3,1263 1268.9,1224.1" fill="#c8ada0"/>
<path d="M1268.9 1016.5L1467.3 1052.3" stroke="#4b413b" stroke-width="1.7"/>
<path d="M1289.3 1004.2L1488.8 1042" stroke="#17251c" stroke-width="1.5"/>
<path d="M1322 985.8L1523.9 1021.2" stroke="#33423a" stroke-width="1.2"/>
<path d="M1289.3 1004.2L1322 985.8" stroke="#33423a" stroke-width="1.0"/>
<path d="M1268.9 1016.5L1289.3 1004.2" stroke="#5c514b" stroke-width="1.0"/>
<path d="M1268.9 1224.1L1467.3 1263" stroke="#a8978d" stroke-width="1.2"/>
<path d="M1467.3 1052.3L1488.8 1042" stroke="#4b413b" stroke-width="1.4"/>
<path d="M1488.8 1042L1523.9 1021.2" stroke="#0d2014" stroke-width="1.4"/>
<path d="M1269.4 1085L1269.4 1224.1" stroke="#15120f" stroke-width="1.6"/>
<path d="M1467.3 1052.3L1467.3 1263" stroke="#15120f" stroke-width="1.2"/>
<path d="M1488.8 1042L1488.8 1250.7" stroke="#00150a" stroke-width="2.6"/>
<path d="M1522.7 1021.2L1522.7 1231.3" stroke="#002f17" stroke-width="2.4"/>
<polygon points="1278.2,1124.5 1319.2,1054 1413.1,1069.2 1454.3,1152.7 1411.4,1227.2 1320.5,1211" fill="none" stroke="#003c1f" stroke-width="13.6" stroke-linejoin="miter" stroke-miterlimit="6"/>
<polygon points="1295,1126.7 1327.8,1070.5 1404,1082.4 1437.5,1151.1 1403.1,1210.7 1329.5,1197.8" fill="none" stroke="#003c1f" stroke-width="13.6" stroke-linejoin="miter" stroke-miterlimit="6"/>
<polygon points="1311.7,1128.9 1336.3,1087 1395,1095.5 1420.8,1149.5 1394.9,1194.2 1338.6,1184.6" fill="none" stroke="#003c1f" stroke-width="13.6" stroke-linejoin="miter" stroke-miterlimit="6"/>
<polygon points="1328.5,1131.1 1344.8,1103.5 1385.9,1108.7 1404,1147.8 1386.7,1177.7 1347.7,1171.4" fill="none" stroke="#003c1f" stroke-width="13.6" stroke-linejoin="miter" stroke-miterlimit="6"/>
<path d="M1285.5 1126.3 L1322.4 1063" stroke="#bfa99d" stroke-width="2.2" stroke-dasharray="3.2 3.2"/>
<path d="M1444.8 1152.6 L1406.1 1219.6" stroke="#bfa99d" stroke-width="2.2" stroke-dasharray="3.2 3.2"/>
<path d="M1322.4 1063 L1407.4 1076.5" stroke="#a99689" stroke-width="2" stroke-dasharray="3.2 9.6"/>
<path d="M1406.1 1219.6 L1323.9 1205.1" stroke="#a99689" stroke-width="2" stroke-dasharray="3.2 9.6"/>
<path d="M1302.2 1128.5 L1330.9 1079.4" stroke="#bfa99d" stroke-width="2.2" stroke-dasharray="3.2 3.2"/>
<path d="M1428.1 1151 L1397.9 1203.1" stroke="#bfa99d" stroke-width="2.2" stroke-dasharray="3.2 3.2"/>
<path d="M1330.9 1079.4 L1398.4 1089.6" stroke="#a99689" stroke-width="2" stroke-dasharray="3.2 9.6"/>
<path d="M1397.9 1203.1 L1333 1191.9" stroke="#a99689" stroke-width="2" stroke-dasharray="3.2 9.6"/>
<path d="M1319 1130.7 L1339.4 1095.9" stroke="#bfa99d" stroke-width="2.2" stroke-dasharray="3.2 3.2"/>
<path d="M1411.3 1149.3 L1389.7 1186.7" stroke="#bfa99d" stroke-width="2.2" stroke-dasharray="3.2 3.2"/>
<path d="M1339.4 1095.9 L1389.4 1102.8" stroke="#a99689" stroke-width="2" stroke-dasharray="3.2 9.6"/>
<path d="M1389.7 1186.7 L1342 1178.7" stroke="#a99689" stroke-width="2" stroke-dasharray="3.2 9.6"/>
<polygon points="1277,1125.3 1318,1054.8 1411.8,1070 1453,1153.5 1410.1,1227.9 1319.2,1211.7" fill="none" stroke="#006b35" stroke-width="7.4" stroke-linejoin="miter" stroke-miterlimit="6"/>
<polygon points="1293.7,1127.5 1326.5,1071.3 1402.8,1083.2 1436.3,1151.9 1401.8,1211.5 1328.2,1198.6" fill="none" stroke="#006b35" stroke-width="7.4" stroke-linejoin="miter" stroke-miterlimit="6"/>
<polygon points="1310.5,1129.7 1335,1087.8 1393.7,1096.3 1419.5,1150.3 1393.6,1195 1337.3,1185.4" fill="none" stroke="#006b35" stroke-width="7.4" stroke-linejoin="miter" stroke-miterlimit="6"/>
<polygon points="1327.2,1131.9 1343.5,1104.2 1384.7,1109.5 1402.8,1148.6 1385.4,1178.5 1346.4,1172.2" fill="none" stroke="#006b35" stroke-width="7.4" stroke-linejoin="miter" stroke-miterlimit="6"/>
</g>
</g>
<g id="legend">
<rect x="1445.3" y="621.8" width="605.7" height="355.7" fill="#fff"/>
<g shape-rendering="crispEdges">
<rect x="1445.9" y="658.8" width="157.2" height="11" fill="#000"/>
<rect x="1445.9" y="746.9" width="43.2" height="11" fill="#ff0000"/>
<rect x="1545.9" y="746.9" width="43.2" height="11" fill="#ff0000"/>
<rect x="1445.9" y="835.9" width="7.3" height="10.3" fill="#00ff00"/>
<rect x="1504.8" y="835.9" width="8.4" height="10.3" fill="#00ff00"/>
<rect x="1564.9" y="835.9" width="8.4" height="10.3" fill="#00ff00"/>
<rect x="1445.9" y="924" width="53.1" height="10.3" fill="#0000ff"/>
<rect x="1530.9" y="924" width="8.2" height="10.3" fill="#0000ff"/>
<rect x="1571.8" y="924" width="31.3" height="10.3" fill="#0000ff"/>
</g>
<g font-size="70" fill="#000">
<text transform="translate(1622 688.3) scale(1 1.04)">Stage 1</text><g transform="translate(1622 688.3) scale(1 1.04)" fill="#fff"><rect x="213.68" y="-9.10" width="12.53" height="11.90"/><rect x="236.15" y="-9.10" width="11.55" height="11.90"/></g>
<text transform="translate(1622 776.4) scale(1 1.04)">Stage 2</text>
<text transform="translate(1622 865) scale(1 1.04)">Stage 3</text>
<text transform="translate(1622 953.1) scale(1 1.04)">Final Stage</text>
</g></g>
<g id="arrows" fill="#000" shape-rendering="crispEdges">
<rect x="533.5" y="852.6" width="10.6" height="159.6" shape-rendering="crispEdges"/>
<polygon points="538.8,777.8 557.6,853.6 520,853.6"/>
<rect x="796" y="451.7" width="10.6" height="569.9" shape-rendering="crispEdges"/>
<polygon points="801.3,379 820.1,452.7 782.5,452.7"/>
<rect x="1037.7" y="528.7" width="10.6" height="488.8" shape-rendering="crispEdges"/>
<polygon points="1043,456 1061.8,529.7 1024.2,529.7"/>
<rect x="1312.6" y="526.6" width="10.6" height="494" shape-rendering="crispEdges"/>
<polygon points="1317.9,453.1 1336.7,527.6 1299.1,527.6"/>
</g>
<g id="captions" font-size="56.8" text-anchor="middle" fill="#000">
<text transform="translate(499 1340.6) scale(1 1.07)">Stage 1</text><g transform="translate(499 1340.6) scale(1 1.07)" fill="#fff"><rect x="72.35" y="-7.38" width="10.17" height="9.66"/><rect x="90.59" y="-7.38" width="9.37" height="9.66"/></g>
<text transform="translate(792 1340.6) scale(1 1.07)">Stage 2</text>
<text transform="translate(1089 1340.6) scale(1 1.07)">Stage 3</text>
<text transform="translate(1424 1340.6) scale(1 1.07)">Final Stage</text>
</g>
</svg>
</body>
</html>
